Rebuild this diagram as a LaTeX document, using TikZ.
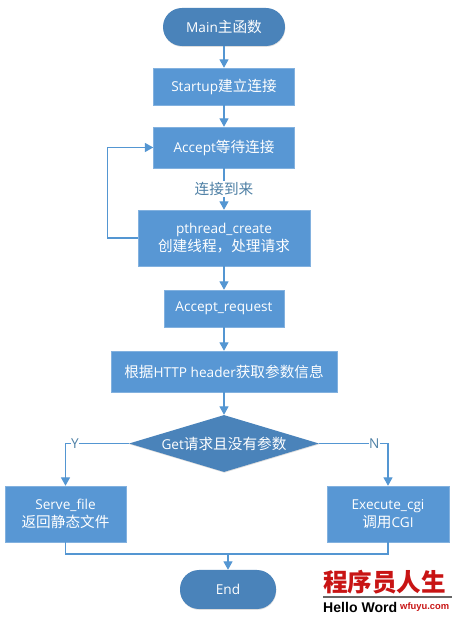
\documentclass[tikz,border=0pt]{standalone}
\usepackage{fontspec}
\setmainfont{Open Sans}[Scale=0.93]
\newfontfamily\cjk{Noto Sans CJK SC}
\newfontfamily\latinbold{Liberation Sans}
\usetikzlibrary{arrows.meta, shapes.geometric, shadows}
\definecolor{boxblue}{RGB}{88,151,212}
\definecolor{termblue}{RGB}{74,131,186}
\definecolor{linkblue}{RGB}{84,150,210}
\definecolor{labelblue}{RGB}{78,128,165}
\definecolor{markred}{RGB}{200,20,20}
\tikzset{
    softshadow/.style={drop shadow={shadow xshift=0.3pt,shadow yshift=-0.7pt,fill=black!22,opacity=0.6}},
    flowbox/.style={draw=boxblue!75!white, thin, fill=boxblue, text=white, align=center, inner sep=0pt, softshadow},
    termbox/.style={fill=termblue, text=white, rounded corners=0.57cm, inner sep=0pt, softshadow},
    flowlink/.style={->, color=linkblue, line width=0.9pt},
    branchlabel/.style={fill=white, text=labelblue, inner sep=0.5pt}
}

\begin{document}
\begin{tikzpicture}[>={Triangle[length=2.5mm,width=2.7mm]},font=\fontsize{12.5}{16}\selectfont]
    \useasboundingbox (0,0) rectangle (13.68,18.51);

    \node[termbox, minimum width=3.66cm, minimum height=1.14cm] (Main) at (6.72,17.7) {Main{\cjk 主函数}};
    \node[flowbox, minimum width=4.23cm, minimum height=1.11cm] (Startup) at (6.72,15.915) {Startup{\cjk 建立连接}};
    \node[flowbox, minimum width=4.23cm, minimum height=1.23cm] (Accept) at (6.72,14.085) {Accept{\cjk 等待连接}};
    \node[flowbox, minimum width=5.16cm, minimum height=1.68cm] (Thread) at (6.72,11.37) {pthread\_create\\{\cjk 创建线程，处理请求}};
    \node[flowbox, minimum width=3.6cm, minimum height=1.11cm] (Request) at (6.72,9.255) {Accept\_request};
    \node[flowbox, minimum width=6.78cm, minimum height=1.23cm] (Header) at (6.72,7.365) {{\cjk 根据}HTTP header{\cjk 获取参数信息}};
    \node[diamond, aspect=3.33, fill=termblue, text=white, inner sep=0pt, minimum width=5.7cm, minimum height=1.71cm, softshadow] (Get) at (6.72,5.205) {Get{\cjk 请求且没有参数}};
    \node[flowbox, minimum width=3.63cm, minimum height=1.68cm] (Serve) at (1.965,3.09) {Serve\_file\\{\cjk 返回静态文件}};
    \node[flowbox, minimum width=3.66cm, minimum height=1.68cm] (Execute) at (11.64,3.09) {Execute\_cgi\\{\cjk 调用}CGI};
    \node[termbox, minimum width=2.88cm, minimum height=1.17cm] (End) at (6.84,0.825) {End};
    \coordinate (Join) at (6.84,1.89);

    \draw[flowlink] (Main) -- (Startup);
    \draw[flowlink] (Startup) -- (Accept);
    \draw[flowlink] (Accept) -- node[fill=white, text=labelblue, inner sep=1pt] (Arrive) {\cjk 连接到来} (Thread);
    \draw[flowlink] (Thread.west) -- ++(-0.9,0) |- (Accept.west);
    \draw[flowlink] (Thread) -- (Request);
    \draw[flowlink] (Request) -- (Header);
    \draw[flowlink] (Header) -- (Get);
    \draw[flowlink] (Get.west) -| node[branchlabel, pos=0.425] (Yes) {Y} (Serve.north);
    \draw[flowlink] (Get.east) -| node[branchlabel, pos=0.4] (No) {N} (Execute.north);
    \draw[color=linkblue, line width=0.9pt] (Serve.south) |- (Join);
    \draw[color=linkblue, line width=0.9pt] (Execute.south) |- (Join);
    \draw[flowlink] (Join) -- (End);

    \node[text=markred, font=\fontsize{21}{21}\cjk\bfseries, inner sep=0pt] (Mark) at (11.54,1.05) {程序员人生};
    \node[fill=black!60, minimum width=3.87cm, minimum height=0.06cm, inner sep=0pt] (Rule) at (11.63,0.6) {};
    \node[font=\fontsize{12}{12}\latinbold\bfseries, inner sep=0pt, anchor=west] (Hello) at (9.69,0.3) {Hello Word};
    \node[text=markred, font=\fontsize{8}{8}\latinbold\bfseries, inner sep=0pt, anchor=west] (Site) at (12.0,0.3) {wfuyu.com};
\end{tikzpicture}
\end{document}
